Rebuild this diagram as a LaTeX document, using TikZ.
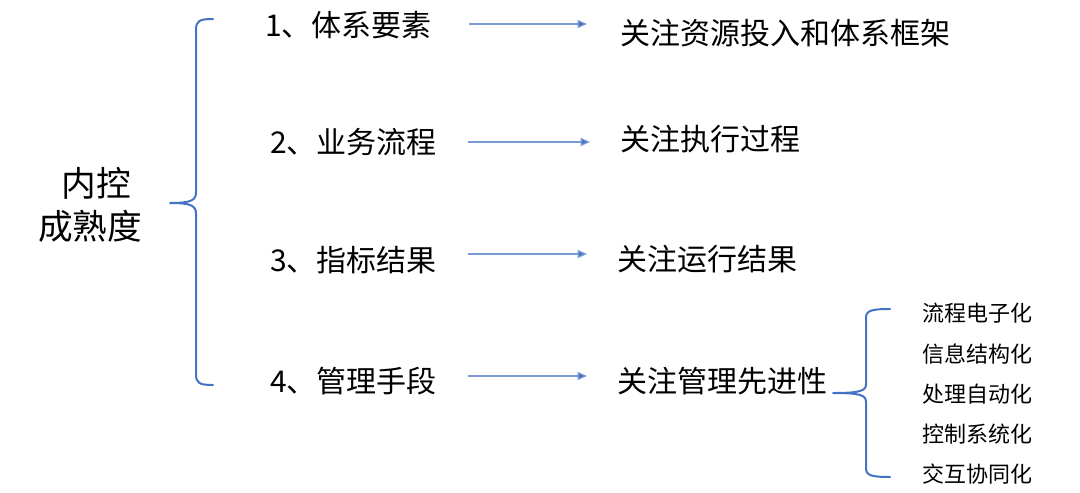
\documentclass[tikz,border=0pt]{standalone}
\usepackage{fontspec}
\setmainfont{Noto Sans CJK SC}
\usetikzlibrary{arrows.meta}
\definecolor{bracecol}{HTML}{4472C4}
\definecolor{arrcol}{HTML}{7A9AD6}
\tikzset{
  txt/.style={inner sep=0pt, anchor=west, text=black},
  big/.style={txt, font=\fontsize{26}{30}\selectfont, anchor=center, align=center},
  item/.style={txt, font=\fontsize{22.5}{26}\selectfont},
  small/.style={txt, font=\fontsize{16.5}{20}\selectfont},
  brace/.style={draw=bracecol, line width=1.5pt, line cap=round},
  arr/.style={draw=arrcol, line width=0.9pt, -{Triangle[length=7pt,width=6pt,fill=bracecol]}, shorten <=31*0.75pt, shorten >=30*0.75pt}
}
\begin{document}
\begin{tikzpicture}[x=0.75pt,y=-0.75pt]
\useasboundingbox (0,0) rectangle (1080,492);
% title
\node[big] (t1) at (96,183) {内控};
\node[big] (t2) at (90,226) {成熟度};
% left brace
\coordinate (bt) at (213,19);
\coordinate (bm) at (170,203);
\coordinate (bb) at (213,385);
\draw[brace] (bt) .. controls (199,19) and (196,21) .. (196,30)
  -- (196,192) .. controls (196,200) and (192,203) .. (bm)
  (bm) .. controls (192,203) and (196,206) .. (196,214)
  -- (196,374) .. controls (196,383) and (199,385) .. (bb);
% items
\node[item] (i1) at (265,25) {1、体系要素};
\node[item] (i2) at (270,142) {2、业务流程};
\node[item] (i3) at (270,260) {3、指标结果};
\node[item] (i4) at (270,381) {4、管理手段};
% right texts
\node[item] (r1) at (620,33) {关注资源投入和体系框架};
\node[item] (r2) at (620,139) {关注执行过程};
\node[item] (r3) at (617,259) {关注运行结果};
\node[item] (r4) at (617,381) {关注管理先进性};
% arrows
\draw[arr, shorten <=37*0.75pt, shorten >=33*0.75pt] ([yshift=0.75pt]i1.east) -- ([yshift=0.75pt]i1.east -| r1.west);
\draw[arr] (i2.east) -- (i2.east -| r2.west);
\draw[arr] ([yshift=4.5pt]i3.east) -- ([yshift=4.5pt]i3.east -| r3.west);
\draw[arr] ([yshift=3.75pt]i4.east) -- ([yshift=3.75pt]i4.east -| r4.west);
% small brace
\coordinate (st) at (890,309);
\coordinate (sm) at (833,393);
\coordinate (sb) at (890,477);
\draw[brace] (st) .. controls (870,309) and (866,311) .. (866,318)
  -- (866,384) .. controls (866,391) and (860,393) .. (sm)
  (sm) .. controls (860,393) and (866,395) .. (866,402)
  -- (866,468) .. controls (866,475) and (870,477) .. (sb);
% small items
\node[small] (s1) at (922,313) {流程电子化};
\node[small] (s2) at (922,354) {信息结构化};
\node[small] (s3) at (922,394) {处理自动化};
\node[small] (s4) at (922,434) {控制系统化};
\node[small] (s5) at (922,474) {交互协同化};
\end{tikzpicture}
\end{document}
